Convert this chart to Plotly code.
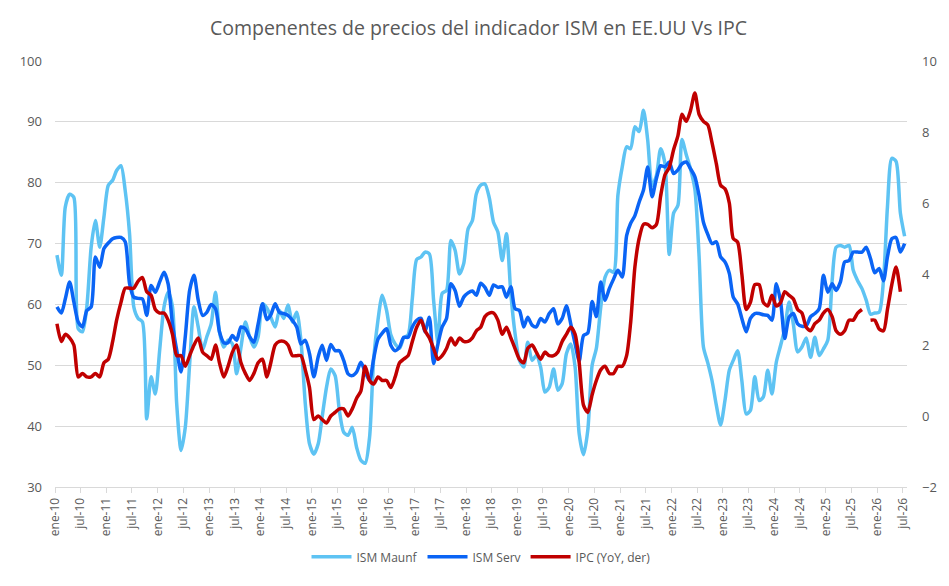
import pandas as pd
import plotly.graph_objects as go

# monthly data, ene-10 .. jul-26
ism_manuf = [
    68.1, 64.8, 76.0, 78.1, 77.6, 56.0, 55.5, 59.6, 69.4, 73.8, 69.4, 74.4,
    79.6, 80.4, 82.0, 82.8, 78.7, 71.6, 59.6, 57.7, 57.1, 41.2, 48.1, 45.3,
    52.5, 59.6, 62.0, 59.6, 43.7, 36.0, 39.8, 50.2, 59.6, 56.3, 52.5, 54.7,
    56.8, 62.0, 55.5, 53.0, 54.1, 53.5, 48.6, 53.0, 57.1, 54.7, 53.0, 54.7,
    60.1, 59.4, 57.9, 56.3, 59.0, 57.7, 59.9, 57.1, 58.7, 54.1, 43.7, 37.1,
    35.4, 37.1, 41.5, 46.4, 49.4, 48.3, 42.6, 39.0, 38.5, 39.8, 36.5, 34.4,
    33.9, 38.2, 51.0, 57.5, 61.5, 59.0, 55.0, 53.5, 52.8, 54.5, 55.0, 61.0,
    67.4, 67.8, 68.6, 68.3, 60.7, 53.8, 61.8, 62.3, 70.5, 68.9, 65.0, 66.7,
    72.4, 73.8, 78.2, 79.6, 79.8, 77.5, 73.5, 71.9, 67.2, 71.6, 61.8, 55.2,
    50.8, 49.7, 53.8, 50.8, 51.6, 49.7, 45.6, 46.4, 49.4, 45.9, 47.0, 51.9,
    53.5, 49.7, 38.7, 35.3, 39.3, 50.0, 52.8, 59.5, 64.5, 65.6, 65.3, 77.9,
    82.6, 85.9, 85.6, 89.2, 88.4, 91.9, 87.0, 79.5, 81.2, 85.6, 83.1, 68.2,
    75.0, 76.3, 87.1, 84.6, 82.3, 79.0, 68.0, 53.0, 50.4, 47.5, 43.4, 40.2,
    44.2, 49.2, 50.8, 52.4, 47.5, 42.0, 42.6, 48.1, 44.2, 44.8, 49.2, 45.3,
    50.5, 53.3, 56.0, 60.4, 56.8, 52.2, 53.0, 54.5, 51.3, 54.6, 51.6, 52.7,
    54.1, 63.9, 69.4, 69.7, 69.4, 69.7, 65.6, 63.9, 62.6, 60.7, 58.4, 58.6,
    58.7, 64.0, 76.0, 84.0, 83.5, 75.0, 71.2,
]

ism_serv = [
    59.6, 58.6, 60.9, 63.7, 60.4, 57.1, 56.3, 59.0, 59.6, 67.8, 66.1, 69.2,
    70.1, 70.8, 71.0, 71.0, 70.3, 63.4, 61.2, 61.0, 60.9, 58.2, 63.1, 62.0,
    63.7, 65.3, 63.4, 56.8, 52.5, 48.9, 54.7, 62.3, 64.8, 60.7, 58.2, 58.7,
    60.0, 59.3, 55.5, 53.7, 53.7, 54.9, 54.1, 56.3, 56.0, 54.7, 53.8, 56.8,
    60.1, 57.5, 58.3, 60.1, 58.7, 58.5, 58.2, 57.4, 56.3, 53.5, 54.1, 51.9,
    48.1, 51.4, 53.3, 50.8, 53.4, 52.4, 52.4, 50.8, 48.6, 48.3, 48.9, 50.5,
    48.9, 47.5, 51.1, 54.3, 55.3, 56.0, 53.3, 52.4, 53.0, 54.6, 54.6, 56.3,
    57.4, 57.7, 55.5, 57.9, 50.3, 53.5, 56.3, 57.7, 63.4, 62.3, 59.7, 61.2,
    61.9, 62.2, 61.5, 63.5, 62.8, 61.5, 63.2, 62.8, 62.9, 61.2, 62.9, 59.3,
    59.0, 56.3, 57.9, 56.6, 56.3, 57.7, 57.1, 58.5, 59.3, 56.8, 57.7, 59.8,
    56.8, 53.5, 50.7, 54.9, 55.3, 60.5, 58.0, 63.7, 60.7, 62.6, 64.2, 65.6,
    64.5, 71.3, 73.3, 74.6, 76.8, 78.8, 82.6, 77.7, 80.7, 82.8, 82.6, 83.4,
    81.5, 82.1, 83.1, 83.4, 82.3, 81.0, 77.9, 73.5, 71.5, 70.0, 70.3, 67.8,
    67.0, 65.1, 61.2, 60.1, 57.7, 55.5, 57.7, 58.5, 58.5, 58.3, 58.2, 57.4,
    63.4, 60.4, 54.4, 57.9, 58.5, 56.8, 56.4, 56.5, 58.0, 58.5, 59.3, 64.8,
    62.0, 63.4, 62.3, 63.7, 67.0, 67.2, 68.6, 68.6, 68.6, 69.4, 67.5, 65.2,
    65.9, 63.9, 67.8, 70.8, 71.0, 68.6, 70.0,
]

ipc = [
    2.6, 2.1, 2.3, 2.2, 2.0, 1.1, 1.2, 1.1, 1.1, 1.2, 1.1, 1.5,
    1.6, 2.1, 2.7, 3.2, 3.6, 3.6, 3.6, 3.8, 3.9, 3.5, 3.4, 3.0,
    2.9, 2.9, 2.7, 2.3, 1.7, 1.7, 1.4, 1.7, 2.0, 2.2, 1.8, 1.7,
    1.6, 2.0, 1.5, 1.1, 1.4, 1.8, 2.0, 1.5, 1.2, 1.0, 1.2, 1.5,
    1.6, 1.1, 1.5, 2.0, 2.1, 2.1, 2.0, 1.7, 1.7, 1.7, 1.3, 0.8,
    -0.1, 0.0, -0.1, -0.2, 0.0, 0.1, 0.2, 0.2, 0.0, 0.2, 0.5, 0.7,
    1.4, 1.0, 0.9, 1.1, 1.0, 1.0, 0.8, 1.1, 1.5, 1.6, 1.7, 2.1,
    2.5, 2.7, 2.4, 2.2, 1.9, 1.6, 1.7, 1.9, 2.2, 2.0, 2.2, 2.1,
    2.1, 2.2, 2.4, 2.5, 2.8, 2.9, 2.9, 2.7, 2.3, 2.5, 2.2, 1.9,
    1.6, 1.5, 1.9, 2.0, 1.8, 1.6, 1.8, 1.7, 1.7, 1.8, 2.1, 2.3,
    2.5, 2.3, 1.5, 0.3, 0.1, 0.6, 1.0, 1.3, 1.4, 1.2, 1.2, 1.4,
    1.4, 1.7, 2.6, 4.2, 5.0, 5.4, 5.4, 5.3, 5.4, 6.2, 6.8, 7.0,
    7.5, 7.9, 8.5, 8.3, 8.6, 9.1, 8.5, 8.3, 8.2, 7.7, 7.1, 6.5,
    6.4, 6.0, 5.0, 4.9, 4.0, 3.0, 3.2, 3.7, 3.7, 3.2, 3.1, 3.4,
    3.1, 3.2, 3.5, 3.4, 3.3, 3.0, 2.9, 2.5, 2.4, 2.6, 2.7, 2.9,
    3.0, 2.8, 2.4, 2.3, 2.4, 2.7, 2.7, 2.9, 3.0, None, 2.7, 2.7,
    2.45, 2.4, 3.0, 3.7, 4.2, 3.5,
]

meses = {1: "ene", 7: "jul"}

# points sit in the middle of each month (Excel date axis, between tick marks)
fechas = pd.date_range("2010-01-01", periods=len(ism_manuf), freq="MS") + pd.Timedelta(days=14)
ticks = pd.date_range("2010-01-01", "2026-07-01", freq="6MS")
tick_text = [f"{meses[d.month]}-{d.year % 100:02d}" for d in ticks]

gris = "#595959"

fig = go.Figure()

fig.add_trace(go.Scatter(x=fechas, y=ism_manuf, mode="lines", name="ISM Maunf",
                         line=dict(color="#5EC3F3", width=3.5, shape="spline", smoothing=0.7)))
fig.add_trace(go.Scatter(x=fechas, y=ism_serv, mode="lines", name="ISM Serv",
                         line=dict(color="#0A64F5", width=3.5, shape="spline", smoothing=0.7)))
fig.add_trace(go.Scatter(x=fechas[:len(ipc)], y=ipc, mode="lines", name="IPC (YoY, der)",
                         yaxis="y2",
                         line=dict(color="#C00000", width=3.5, shape="spline", smoothing=0.7)))

# page body has an 8px margin, so the figure is 8px smaller and margins shifted
fig.update_layout(
    width=941, height=578,
    margin=dict(l=39, r=41, t=53, b=99),
    paper_bgcolor="white", plot_bgcolor="white",
    font=dict(family="Open Sans, Arial, sans-serif", color=gris),
    title=dict(text="Compenentes de precios del indicador ISM en EE.UU Vs IPC",
               x=0.5, xanchor="center", y=0.965, yanchor="middle",
               font=dict(size=19.5, color=gris)),
    xaxis=dict(type="date", range=["2010-01-01", "2026-08-01"],
               tickmode="array", tickvals=ticks, ticktext=tick_text,
               tickangle=-90, tickfont=dict(size=12, color=gris),
               showgrid=False, showline=True, linecolor="#d9d9d9", linewidth=1,
               ticks="outside", ticklen=5, tickcolor="#d9d9d9", zeroline=False),
    yaxis=dict(range=[30, 100], dtick=10, showgrid=True, gridcolor="#d9d9d9",
               gridwidth=1, zeroline=False, tickfont=dict(size=13, color=gris),
               ticks="", ticklabelstandoff=12),
    yaxis2=dict(range=[-2, 10], dtick=2, overlaying="y", side="right",
                showgrid=False, zeroline=False, tickfont=dict(size=13, color=gris),
                ticklabelstandoff=14),
    legend=dict(orientation="h", x=0.5, xanchor="center", y=-0.164, yanchor="middle",
                font=dict(size=12, color=gris), itemwidth=40),
    showlegend=True,
)

fig.write_html("out.html")
